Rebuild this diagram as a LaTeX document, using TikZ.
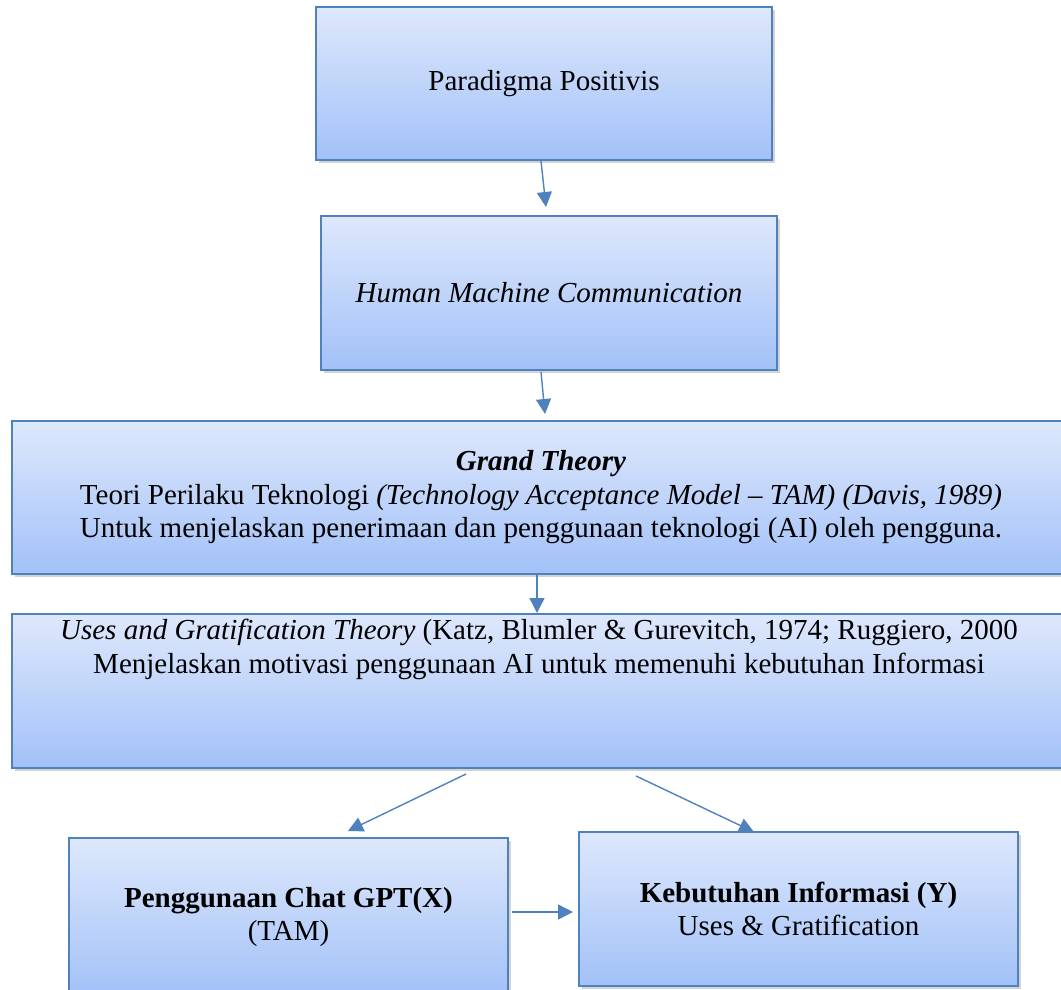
\documentclass[tikz,border=0pt]{standalone}
\usepackage{fontspec}
\setmainfont{Liberation Serif}
\usetikzlibrary{shadows,arrows.meta}
\definecolor{edge}{HTML}{4F81BD}
\definecolor{topc}{HTML}{DEE8FC}
\definecolor{botc}{HTML}{A2C1F8}
\tikzset{
  box/.style={draw=edge, line width=1.6pt, top color=topc, bottom color=botc,
    drop shadow={opacity=0.35, shadow xshift=2.5pt, shadow yshift=-3pt},
    inner sep=0pt, align=center, font=\fontsize{29}{33.5}\selectfont},
  conn/.style={draw=edge, line width=1.4pt, -{Triangle[length=15pt,width=15pt]}},
  txt/.style={align=center, font=\fontsize{29}{33.5}\selectfont, inner sep=0pt}
}
\begin{document}
\begin{tikzpicture}[x=1pt,y=-1pt]
\useasboundingbox (0,0) rectangle (1061,990);
\clip (0,0) rectangle (1061,990);
\node[box, minimum width=456pt, minimum height=153pt] (pp) at (544,83.5) {Paradigma Positivis};
\node[box, minimum width=456pt, minimum height=154pt] (hmc) at (549,293) {\itshape Human Machine Communication};
\node[box, minimum width=1058pt, minimum height=153pt] (gt) at (541,497.5)
  {\textbf{\textit{Grand Theory}}\\
   Teori Perilaku Teknologi \textit{(Technology Acceptance Model – TAM) (Davis, 1989)}\\
   Untuk menjelaskan penerimaan dan penggunaan teknologi (AI) oleh pengguna.};
\node[box, minimum width=1058pt, minimum height=154pt] (ug) at (541,691) {};
\node[txt, anchor=north] (ugt) at (539,619)
  {\textit{Uses and Gratification Theory} (Katz, Blumler \& Gurevitch, 1974; Ruggiero, 2000\\
   Menjelaskan motivasi penggunaan AI untuk memenuhi kebutuhan Informasi};
\node[box, minimum width=439pt, minimum height=158pt] (x) at (288.5,917) {\textbf{Penggunaan Chat GPT(X)}\\(TAM)};
\node[box, minimum width=439pt, minimum height=154pt] (y) at (798.5,909) {\textbf{Kebutuhan Informasi (Y)}\\Uses \& Gratification};
\coordinate (a1) at (541,161);
\coordinate (a2) at (546,207);
\coordinate (b1) at (541,372);
\coordinate (b2) at (545,414);
\coordinate (c1) at (537,575);
\coordinate (c2) at (537,613);
\coordinate (d1) at (466,774);
\coordinate (d2) at (348,831);
\coordinate (e1) at (636,776);
\coordinate (e2) at (754,832);
\coordinate (f1) at (512,912);
\coordinate (f2) at (573,912);
\draw[conn] (a1) -- (a2);
\draw[conn] (b1) -- (b2);
\draw[conn] (c1) -- (c2);
\draw[conn] (d1) -- (d2);
\draw[conn] (e1) -- (e2);
\draw[conn] (f1) -- (f2);
\end{tikzpicture}
\end{document}
